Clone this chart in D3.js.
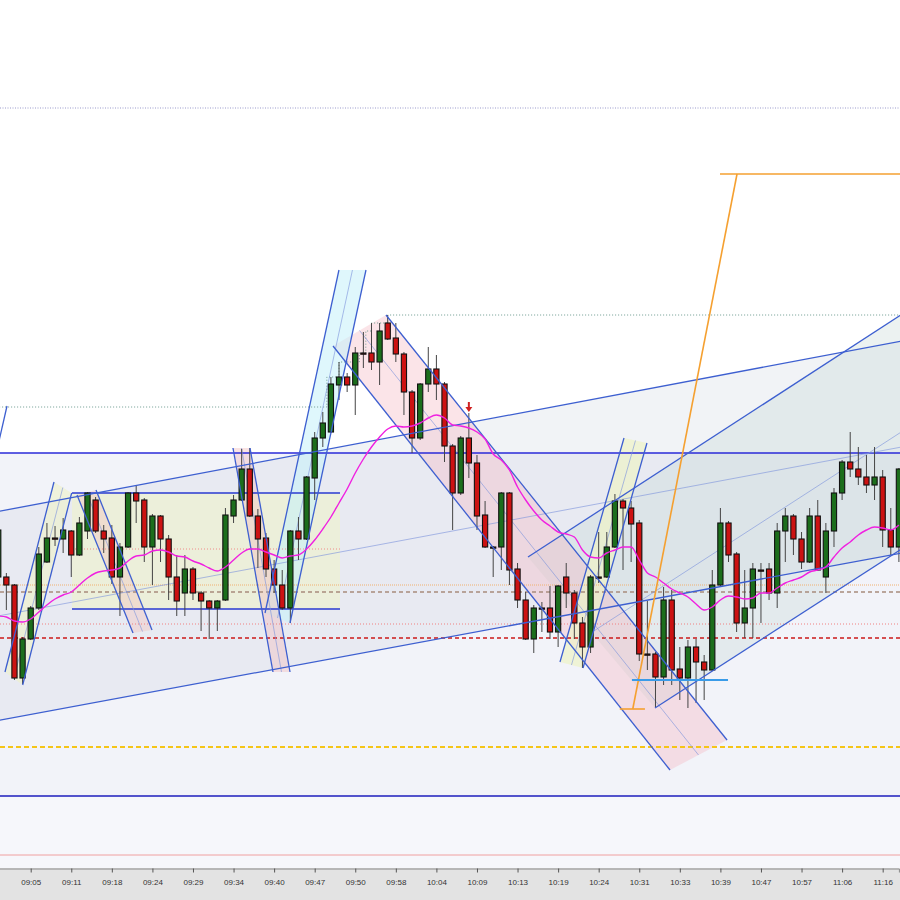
<!DOCTYPE html>
<html><head><meta charset="utf-8">
<script src="https://cdn.jsdelivr.net/npm/d3@7"></script>
<style>html,body{margin:0;padding:0;background:#fff;overflow:hidden}</style>
</head><body>
<svg id="c" width="900" height="900"></svg>
<script>
// ---------- DATA ----------
const tickLabels = ["09:05","09:11","09:18","09:24","09:29","09:34","09:40","09:47","09:50","09:58","10:04",
  "10:09","10:13","10:19","10:24","10:31","10:33","10:39","10:47","10:57","11:06","11:16"];
const tickBars = tickLabels.map((d,i)=>4+5*i);

const open  = [423,423,415,322,361,392,438,462,461,469,445,469,500,469,462,423,453,507,500,453,484,461,423,407,431,407,399,392,400,484,
  500,531,484,462,431,415,392,469,461,522,562,568,615,623,615,647,647,638,677,662,646,608,562,616,631,616,554,507,562,537,
  485,453,453,507,431,400,361,392,392,368,423,407,377,353,423,423,453,499,492,477,346,346,323,400,331,322,353,338,330,415,
  477,446,377,392,430,431,407,469,484,461,438,484,423,469,507,538,531,523,515,523,470,453];
const high  = [475,427,416,363,394,453,477,474,482,470,483,508,503,475,475,457,508,515,502,486,485,465,445,445,433,409,400,400,492,505,
  551,552,491,467,440,430,470,483,524,568,588,623,638,627,653,668,677,677,685,677,648,610,617,653,645,618,556,564,587,545,
  499,454,508,508,437,408,395,398,414,415,437,410,383,425,468,468,506,501,499,480,399,348,413,410,353,360,361,345,430,492,
  479,448,430,437,437,437,477,492,486,468,492,500,477,512,540,568,553,545,553,530,492,532];
const low   = [418,390,320,316,360,390,437,454,447,423,444,461,467,447,416,384,452,477,438,415,438,400,384,384,400,369,361,369,399,477,
  499,483,432,423,407,390,377,440,460,500,553,567,600,608,585,632,630,615,660,638,585,547,560,608,600,538,470,505,522,470,
  452,423,430,415,392,360,347,368,361,353,392,361,332,347,417,422,452,430,438,339,330,293,315,315,300,292,297,300,329,413,
  438,368,362,362,377,400,392,438,445,431,437,429,407,453,500,523,515,507,500,453,445,438];
const close = [470,415,322,361,392,446,462,461,470,445,477,507,469,461,423,453,507,499,453,484,461,423,399,431,407,399,392,399,485,500,
  531,484,461,431,415,392,469,461,523,562,577,616,623,615,647,646,638,669,661,646,608,562,616,631,616,554,507,562,537,484,
  453,452,507,430,400,361,392,391,368,414,407,377,353,423,422,453,499,492,476,346,345,323,400,330,322,353,338,330,415,477,
  445,377,392,431,429,407,469,484,461,438,484,430,469,507,538,531,523,515,523,470,453,531];
const maValues = [384,383,379,378,381,388,395,401,405,408,415,422,427,429,430,432,439,444,445,449,450,448,444,443,439,436,432,429,433,440,
  447,451,451,448,445,442,444,445,451,460,471,483,497,511,527,541,553,563,571,574,573,574,577,582,585,582,575,574,572,568,
  561,546,540,530,513,500,489,480,474,468,466,463,450,443,442,447,450,453,453,440,427,423,417,411,407,403,396,390,393,400,
  404,403,401,402,407,407,412,417,420,423,428,430,433,443,452,458,465,470,473,472,470,475];

// horizontal levels (price)
const levels = [892, 547, 204, 145, 253, 362, 376, 408, 415];
// trend channels: two parallel lines [[bar,price],[bar,price]]
const bigChannelUpper = [[-1,487],[112,660]];
const bigChannelLower = [[-1,278],[112,448]];
const rightChannelUpper = [[65.29,443],[112,689]];
const rightChannelLower = [[80.94,292],[112,454.5]];
const downChannelUpper = [[47.79,685],[89.82,260]];
const downChannelLower = [[41.26,654],[82.79,230]];
const cyanChannelA = [[32.88,387],[41.99,730]];
const cyanChannelB = [[35.96,377],[45.32,730]];
const pinkSmallA = [[28.93,552],[33.86,328]];
const pinkSmallB = [[31.03,552],[35.96,328]];
const pinkSmall2A = [[9.71,505],[16.61,367]];
const pinkSmall2B = [[12.05,510],[18.95,370]];
const yellowLeftA = [[0.83,328],[6.87,518]];
const yellowLeftB = [[3.01,315],[9.05,507]];
const yellowRightA = [[69.23,338],[77.12,562]];
const yellowRightB = [[72.07,332],[79.95,557]];
const stubLine = [[-0.3,545],[1.08,594]];
// range box
const boxBars = [9.09, 42.12];
const boxPrices = [507, 391];
const boxMid = 451;
// highest-high step line
const stepLine = [[-1,593],[40.5,623],[42,638],[44.5,647],[45.3,669],[46,677],[48,685],[112,685]];
// orange projection
const orangeBase = [[76.6,291],[79.7,291]];
const orangeRise = [[78.2,291],[91.05,826]];
const orangeTop = [[88.95,826],[112,826]];
// light blue support
const blueSupport = [[78.1,320],[89.94,320]];
// signal arrow
const arrowBar = 58, arrowPrice = 598;

// ---------- SCALES ----------
const svg = d3.select("#c");
const plotB = 868;
const x = d3.scaleLinear().domain([0,111]).range([-1.76, 898.9]);
const y = d3.scaleLinear().domain([132,1000]).range([plotB,0]);
const line = d3.line().x(d=>x(d[0])).y(d=>y(d[1]));

svg.append("defs").append("clipPath").attr("id","clip")
  .append("rect").attr("x",0).attr("y",0).attr("width",900).attr("height",plotB);
const g = svg.append("g").attr("clip-path","url(#clip)");

// backgrounds
g.append("rect").attr("x",0).attr("y",0).attr("width",900).attr("height",plotB).attr("fill","#ffffff");
g.append("rect").attr("x",0).attr("y",y(547)).attr("width",900).attr("height",y(204)-y(547)).attr("fill","#f2f3f9");
g.append("rect").attr("x",0).attr("y",y(204)).attr("width",900).attr("height",plotB-y(204)).attr("fill","#f6f7fb");

function band(a,b,fill,op){
  const pts=[a[0],a[1],b[1],b[0]];
  g.append("path").attr("d",line(pts)+"Z").attr("fill",fill).attr("fill-opacity",op).attr("stroke","none");
}
band(bigChannelUpper,bigChannelLower,"#d2d6e2",0.3);
// range box fill
g.append("rect").attr("x",x(boxBars[0])).attr("y",y(boxPrices[0])).attr("width",x(boxBars[1])-x(boxBars[0]))
  .attr("height",y(boxPrices[1])-y(boxPrices[0])).attr("fill","#eef0d2").attr("fill-opacity",0.75);
band(rightChannelUpper,rightChannelLower,"#c4d6d2",0.32);
band(downChannelUpper,downChannelLower,"#f4b8c2",0.38);
band(cyanChannelA,cyanChannelB,"#c4f0fa",0.55);
band(pinkSmallA,pinkSmallB,"#f2c0c0",0.45);
band(pinkSmall2A,pinkSmall2B,"#f2c8c0",0.45);
band(yellowLeftA,yellowLeftB,"#eef2c8",0.6);
band(yellowRightA,yellowRightB,"#eef2c8",0.7);

// horizontal levels
const levelStyle = [
  {c:"#9a9acc",w:1,d:"1,1.5"},
  {c:"#2a2ad8",w:1.5,d:null},
  {c:"#1c1cbc",w:1.5,d:null},
  {c:"#f0a0a0",w:1,d:null},
  {c:"#f5c518",w:2,d:"5,3"},
  {c:"#cc1a1a",w:1.3,d:"4,3"},
  {c:"#f08080",w:1,d:"1,2"},
  {c:"#a88c7c",w:1.5,d:"4,3"},
  {c:"#f0b070",w:1,d:"1,1"}
];
levels.forEach((p,i)=>{
  const s=levelStyle[i];
  g.append("line").attr("x1",0).attr("x2",900).attr("y1",y(p)).attr("y2",y(p))
    .attr("stroke",s.c).attr("stroke-width",s.w).attr("stroke-dasharray",s.d);
});

// step line
g.append("path").attr("d",d3.line().x(d=>x(d[0])).y(d=>y(d[1])).curve(d3.curveStepAfter)(stepLine))
  .attr("fill","none").attr("stroke","#6f9c90").attr("stroke-width",1).attr("stroke-dasharray","1,2");

// box lines
[boxPrices[0],boxPrices[1]].forEach(p=>{
  g.append("line").attr("x1",x(boxBars[0])).attr("x2",x(boxBars[1])).attr("y1",y(p)).attr("y2",y(p))
    .attr("stroke","#2a3ad0").attr("stroke-width",1.5);
});
g.append("line").attr("x1",x(boxBars[0])).attr("x2",x(boxBars[1])).attr("y1",y(boxMid)).attr("y2",y(boxMid))
  .attr("stroke","#f08a8a").attr("stroke-width",1).attr("stroke-dasharray","1,2");

// channel lines
function chLine(seg,color,w,op){
  g.append("path").attr("d",line(seg)).attr("fill","none").attr("stroke",color).attr("stroke-width",w).attr("stroke-opacity",op||1);
}
function mid(a,b){return [[(a[0][0]+b[0][0])/2,(a[0][1]+b[0][1])/2],[(a[1][0]+b[1][0])/2,(a[1][1]+b[1][1])/2]];}
const chanCol="#3d5fd0";
const allChannels = [[bigChannelUpper,bigChannelLower],[rightChannelUpper,rightChannelLower],[downChannelUpper,downChannelLower],
 [cyanChannelA,cyanChannelB],[pinkSmallA,pinkSmallB],[pinkSmall2A,pinkSmall2B],[yellowLeftA,yellowLeftB],[yellowRightA,yellowRightB]];
allChannels.forEach(([a,b])=>chLine(mid(a,b),"#7f95dd",0.8,0.8));

// candles
const bars = open.map((o,i)=>({i,o,h:high[i],l:low[i],c:close[i]}));
const cg = g.append("g");
cg.selectAll("line.w").data(bars).enter().append("line")
  .attr("x1",d=>x(d.i)).attr("x2",d=>x(d.i)).attr("y1",d=>y(d.h)).attr("y2",d=>y(d.l))
  .attr("stroke","#444").attr("stroke-width",1);
cg.selectAll("rect.b").data(bars).enter().append("rect")
  .attr("x",d=>x(d.i)-2.6).attr("width",5.2)
  .attr("y",d=>y(Math.max(d.o,d.c)))
  .attr("height",d=>Math.max(1.2,Math.abs(y(d.o)-y(d.c))))
  .attr("fill",d=>d.c>d.o?"#1c6e1c":(d.c<d.o?"#cc1212":"#111"))
  .attr("stroke","#111").attr("stroke-width",1.1);

// channel boundary lines on top
allChannels.forEach(([a,b])=>{ chLine(a,chanCol,1.3); chLine(b,chanCol,1.3); });
chLine(stubLine,chanCol,1.3);

// moving average
g.append("path").datum(maValues).attr("d",d3.line().x((d,i)=>x(i)).y(d=>y(d)).curve(d3.curveMonotoneX))
  .attr("fill","none").attr("stroke","#f020e0").attr("stroke-width",1.4);

// orange projection
[orangeBase,orangeRise,orangeTop].forEach(s=>chLine(s,"#f5a030",1.6));
// light blue support
chLine(blueSupport,"#3a9be8",2);

// arrow
const ax=x(arrowBar), ay=y(arrowPrice);
g.append("path").attr("d",`M${ax-1},${ay} L${ax+1},${ay} L${ax+1},${ay+5} L${ax+3.5},${ay+5} L${ax},${ay+10} L${ax-3.5},${ay+5} L${ax-1},${ay+5} Z`)
  .attr("fill","#d02020");

// x axis
svg.append("rect").attr("x",0).attr("y",plotB).attr("width",900).attr("height",900-plotB).attr("fill","#e3e3e3");
const xa = svg.append("g").attr("transform",`translate(0,${plotB+0.5})`)
  .call(d3.axisBottom(x).tickValues(tickBars).tickFormat((d,i)=>tickLabels[i]).tickSize(4).tickPadding(7));
xa.select(".domain").attr("stroke","#8a8a8a");
xa.selectAll(".tick line").attr("stroke","#555");
xa.selectAll("text").attr("font-family","Arial, 'Liberation Sans', sans-serif").attr("font-size","8px").attr("fill","#333");
</script>
</body></html>
